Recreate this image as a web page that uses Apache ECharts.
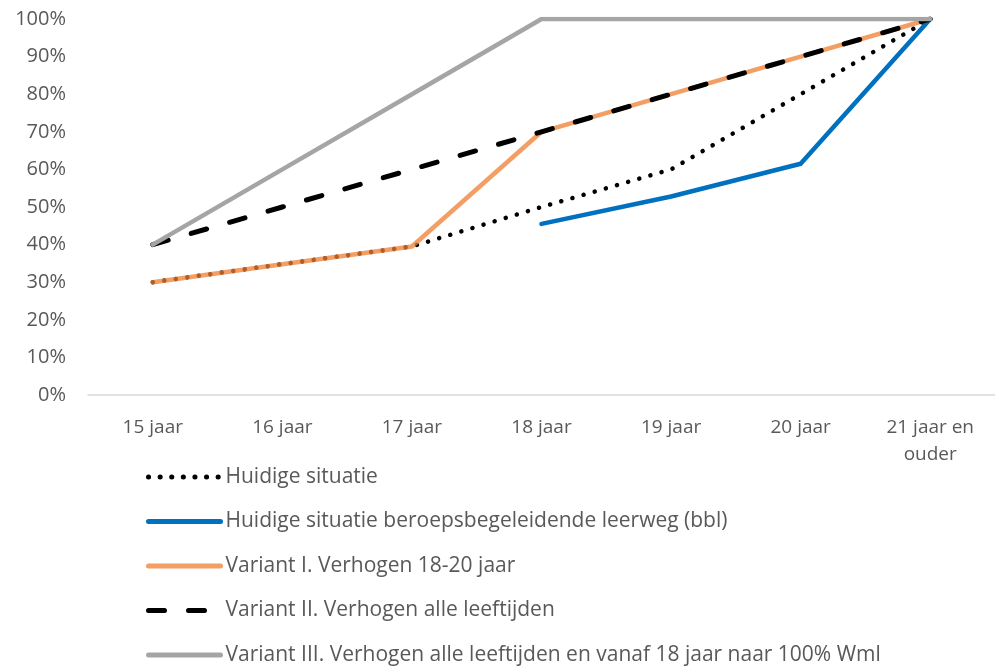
<!DOCTYPE html>
<html><head><meta charset="utf-8">
<script src="https://cdn.jsdelivr.net/npm/echarts@6/dist/echarts.min.js"></script>
<style>html,body{margin:0;padding:0;background:#fff}#c{width:995px;height:670px}</style>
</head><body><div id="c"></div>
<script>
var categories = ['15 jaar','16 jaar','17 jaar','18 jaar','19 jaar','20 jaar','21 jaar en ouder'];
var yTicks = [0,10,20,30,40,50,60,70,80,90,100];
var huidige = [30, 34.8, 39.5, 50, 60, 80, 100];
var bbl = [null, null, null, 45.5, 52.8, 61.5, 100];
var variant1 = [30, 34.8, 39.5, 70, 80, 90, 100];
var variant2 = [40, 50, 60, 70, 80, 90, 100];
var variant3 = [40, 60, 80, 100, 100, 100, 100];
var names = ['Huidige situatie','Huidige situatie beroepsbegeleidende leerweg (bbl)','Variant I. Verhogen 18-20 jaar','Variant II. Verhogen alle leeftijden','Variant III. Verhogen alle leeftijden en vanaf 18 jaar naar 100% Wml'];

var font = 'Open Sans';
var chart = echarts.init(document.getElementById('c'));
function ser(name, data, color, width, type, z, opacity){
  return {name:name, type:'line', data:data, symbol:'none', showSymbol:false, z:z, connectNulls:false,
    lineStyle:{color:color, width:width, type:type, cap:'round', join:'round', opacity:opacity||1},
    itemStyle:{color:color}};
}
chart.setOption({
  animation:false,
  textStyle:{fontFamily:font},
  grid:{left:88, right:0, top:19, bottom:275, containLabel:false},
  xAxis:{type:'category', data:categories, boundaryGap:true,
    axisLine:{lineStyle:{color:'#d9d9d9', width:1.5}}, axisTick:{show:false},
    axisLabel:{color:'#595959', fontSize:19, fontFamily:font, margin:19, lineHeight:27, interval:0,
      formatter:function(v){return v.replace(' en ', ' en\n');}}},
  yAxis:{type:'value', min:yTicks[0], max:yTicks[yTicks.length-1], interval:10,
    axisLine:{show:false}, axisTick:{show:false}, splitLine:{show:false},
    axisLabel:{color:'#595959', fontSize:20, fontFamily:font, margin:22, formatter:'{value}%'}},
  legend:{orient:'vertical', left:146, top:465, padding:0, itemWidth:72, itemHeight:14, itemGap:20.5,
    itemStyle:{opacity:0, borderWidth:0},
    lineStyle:{width:5, cap:'round'},
    textStyle:{color:'#595959', fontSize:21, fontFamily:font, lineHeight:24},
    data:names},
  series:[
    ser(names[0], huidige, '#000000', 4.5, [0.1, 11.5], 1),
    ser(names[1], bbl, '#0070C0', 4.5, 'solid', 2),
    ser(names[2], variant1, '#ED7D31', 4.5, 'solid', 3, 0.75),
    ser(names[3], variant2, '#000000', 5, [16, 24], 4),
    ser(names[4], variant3, '#A5A5A5', 4.5, 'solid', 5)
  ]
});
</script></body></html>
